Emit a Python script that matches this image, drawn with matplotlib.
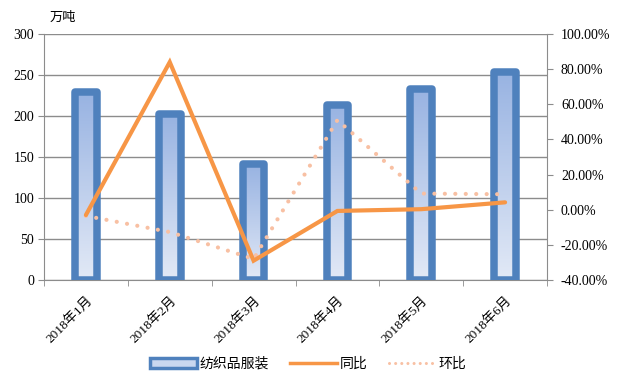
import numpy as np
import matplotlib
matplotlib.use("Agg")
import matplotlib.pyplot as plt
from matplotlib.colors import LinearSegmentedColormap
from matplotlib.lines import Line2D
from matplotlib.patches import Patch

plt.rcParams['font.family'] = ['Noto Sans CJK SC', 'DejaVu Sans']

months = ["2018年1月", "2018年2月", "2018年3月", "2018年4月", "2018年5月", "2018年6月"]
volume = [229, 202, 141, 214, 233, 254]          # 万吨
yoy = [-3.0, 84.0, -29.0, -0.7, 0.3, 4.2]        # 同比 %
mom = [-3.5, -12.7, -28.0, 51.0, 9.2, 8.8]       # 环比 %

bar_edge = "#4f81bd"
orange = "#f79646"
peach = "#f8c0a3"
serif = ["Liberation Serif", "DejaVu Serif"]

fig = plt.figure(figsize=(6.18, 3.86), dpi=100)
ax = fig.add_axes([44 / 618, 106 / 386, 503 / 618, 246 / 386])
ax2 = ax.twinx()

x = np.arange(len(months))
ax.set_xlim(-0.5, len(months) - 0.5)
ax.set_ylim(0, 300)

grad = LinearSegmentedColormap.from_list("g", ["#e2e9f6", "#98b3e2"])
bars = ax.bar(x, volume, width=0.26, color="none", edgecolor=bar_edge,
              linewidth=5.4, zorder=3)
for b in bars:
    b.set_joinstyle("round")
    bx, by = b.get_x(), b.get_y()
    im = ax.imshow(np.linspace(0, 1, 100).reshape(-1, 1), cmap=grad,
                   extent=[bx, bx + b.get_width(), by, by + b.get_height()],
                   origin="lower", aspect="auto", zorder=2.5)
    im.set_clip_path(b)
ax.set_xlim(-0.5, len(months) - 0.5)
ax.set_ylim(0, 300)

ax.set_yticks(range(0, 301, 50))
ax.grid(axis="y", color="#8c8c8c", linewidth=1.0, zorder=0)
ax.set_axisbelow(True)
ax.set_xticks(x)
ax.set_xticklabels(months, rotation=45, ha="right", rotation_mode="anchor",
                   family=serif + ["Noto Sans CJK SC"], fontsize=9.5)
ax.set_xticks(np.arange(-0.5, len(months), 1), minor=True)
ax.tick_params(axis="x", which="major", length=0, pad=10)
ax.tick_params(axis="x", which="minor", length=4, color="#8c8c8c")
ax.tick_params(axis="y", length=4, color="#8c8c8c", labelsize=10, pad=3)
for lab in ax.get_yticklabels():
    lab.set_family(serif)

for s in ["top", "right"]:
    ax.spines[s].set_visible(False)
for s in ["left", "bottom"]:
    ax.spines[s].set_color("#8c8c8c")
for s in ["top", "left", "bottom"]:
    ax2.spines[s].set_visible(False)
ax2.spines["right"].set_color("#8c8c8c")

ax2.plot(x, yoy, color=orange, linewidth=3, solid_capstyle="round",
         solid_joinstyle="miter", zorder=5)
ax2.plot(x, mom, color=peach, linewidth=3, linestyle=(0, (0.01, 2.5)),
         dash_capstyle="round", zorder=4)
ax2.set_ylim(-40, 100)
ax2.set_yticks(range(-40, 101, 20))
ax2.set_yticklabels([f"{v:.2f}%" for v in range(-40, 101, 20)],
                    family=serif, fontsize=10)
ax2.tick_params(axis="y", length=4, color="#8c8c8c", pad=6)

fig.text(50 / 618, 1 - 17 / 386, "万吨", fontsize=9.5, va="center")

handles = [
    Patch(facecolor="#c9d7ef", edgecolor=bar_edge, linewidth=2.5),
    Line2D([], [], color=orange, linewidth=2.5),
    Line2D([], [], color=peach, linewidth=2.2, linestyle=(0, (0.01, 2)),
           dash_capstyle="round"),
]
fig.legend(handles, ["纺织品服装", "同比", "环比"], loc="center",
           bbox_to_anchor=(308 / 618, 1 - 364 / 386), ncol=3, frameon=False,
           fontsize=10, handlelength=3.4, handletextpad=0.2, columnspacing=1.5)

fig.savefig("out.png", dpi=100)
